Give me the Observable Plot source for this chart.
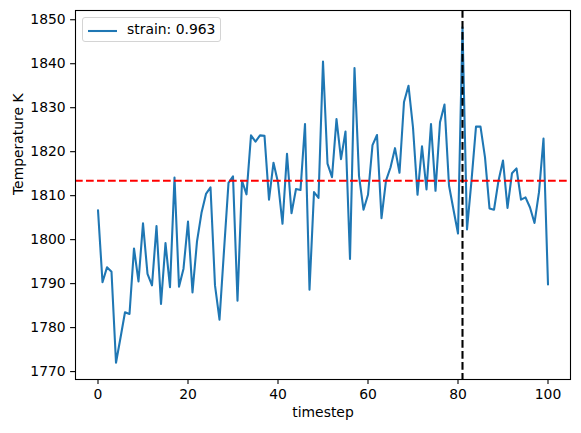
<!DOCTYPE html>
<html><head><meta charset="utf-8">
<script src="https://cdn.jsdelivr.net/npm/d3@7"></script>
<script src="https://cdn.jsdelivr.net/npm/@observablehq/plot@0.6"></script>
<style>
body{margin:0;background:#fff;}
#wrap{position:relative;width:581px;height:433px;}
#legend{position:absolute;left:82px;top:17px;width:139px;height:25px;border:1px solid #d4d4d4;border-radius:3px;background:rgba(255,255,255,0.8);font:13.9px "DejaVu Sans",sans-serif;color:#000;box-sizing:border-box;}
#legend svg{position:absolute;left:4px;top:11px;}
#legend span{position:absolute;left:44px;top:3px;white-space:nowrap;}
</style></head>
<body><div id="wrap"></div>
<script>
// Temperature per timestep (index = timestep)
const temperature = [
  1806.7, 1790.3, 1793.7, 1792.7, 1772.0, 1777.7, 1783.5, 1783.1, 1798.0, 1790.5,
  1803.7, 1792.2, 1789.6, 1803.1, 1785.4, 1799.2, 1789.2, 1814.1, 1789.3, 1793.4,
  1804.1, 1788.0, 1799.6, 1806.1, 1810.4, 1811.9, 1789.6, 1781.8, 1797.5, 1812.9,
  1814.4, 1786.1, 1813.4, 1810.3, 1823.7, 1822.3, 1823.7, 1823.6, 1809.1, 1817.5,
  1813.0, 1803.6, 1819.5, 1806.0, 1811.5, 1811.3, 1826.3, 1788.6, 1810.8, 1809.5,
  1840.5, 1817.3, 1814.2, 1827.4, 1818.3, 1824.6, 1795.6, 1839.0, 1814.5, 1806.8,
  1810.2, 1821.5, 1823.8, 1804.9, 1813.4, 1816.4, 1820.8, 1815.2, 1831.3, 1835.0,
  1825.5, 1810.2, 1821.2, 1811.4, 1826.3, 1811.1, 1826.7, 1830.7, 1812.3, 1806.8,
  1801.4, 1848.3, 1802.3, 1813.4, 1825.7, 1825.7, 1818.7, 1807.1, 1806.8, 1813.4,
  1818.0, 1807.2, 1815.1, 1816.2, 1809.1, 1809.6, 1807.3, 1803.8, 1810.8, 1823.0,
  1789.8
];
const meanTemperature = 1813.4;
const markedStep = 81;
const seriesLabel = "strain: 0.963";
const xTicks = [0, 20, 40, 60, 80, 100];
const yTicks = [1770, 1780, 1790, 1800, 1810, 1820, 1830, 1840, 1850];
const xLabel = "timestep";
const yLabel = "Temperature K";

const data = temperature.map((t, i) => ({timestep: i, temperature: t}));

const chart = Plot.plot({
  width: 581,
  height: 433,
  marginLeft: 75,
  marginRight: 11,
  marginTop: 10,
  marginBottom: 54,
  style: {fontFamily: "DejaVu Sans, sans-serif", fontSize: "13.9px", color: "#000", background: "#fff"},
  x: {domain: [-5, 105]},
  y: {domain: [1768.2, 1852.1]},
  marks: [
    Plot.line(data, {x: "timestep", y: "temperature", stroke: "#1f77b4", strokeWidth: 2.08}),
    Plot.ruleY([meanTemperature], {stroke: "red", strokeWidth: 2.08, strokeDasharray: "7.7,3.3"}),
    Plot.ruleX([markedStep], {stroke: "black", strokeWidth: 2.08, strokeDasharray: "7.7,3.3"}),
    Plot.frame({stroke: "black", strokeWidth: 1.1}),
    Plot.axisX({ticks: xTicks, tickSize: 4.9, tickPadding: 4.9, label: null, tickFormat: d => String(d), strokeWidth: 1.1}),
    Plot.axisY({ticks: yTicks, tickSize: 4.9, tickPadding: 4.9, label: null, tickFormat: d => String(d), strokeWidth: 1.1}),
    Plot.text([xLabel], {frameAnchor: "bottom", dy: 28, lineAnchor: "top", text: d => d, fontSize: 13.9}),
    Plot.text([yLabel], {frameAnchor: "left", dx: -57, rotate: -90, lineAnchor: "middle", text: d => d, fontSize: 13.9})
  ]
});

const wrap = document.getElementById("wrap");
wrap.appendChild(chart);
const legend = document.createElement("div");
legend.id = "legend";
legend.innerHTML = `<svg width="32" height="4"><line x1="1" x2="30" y1="2" y2="2" stroke="#1f77b4" stroke-width="2.08"/></svg><span></span>`;
legend.querySelector("span").textContent = seriesLabel;
wrap.appendChild(legend);
</script>
</body></html>
